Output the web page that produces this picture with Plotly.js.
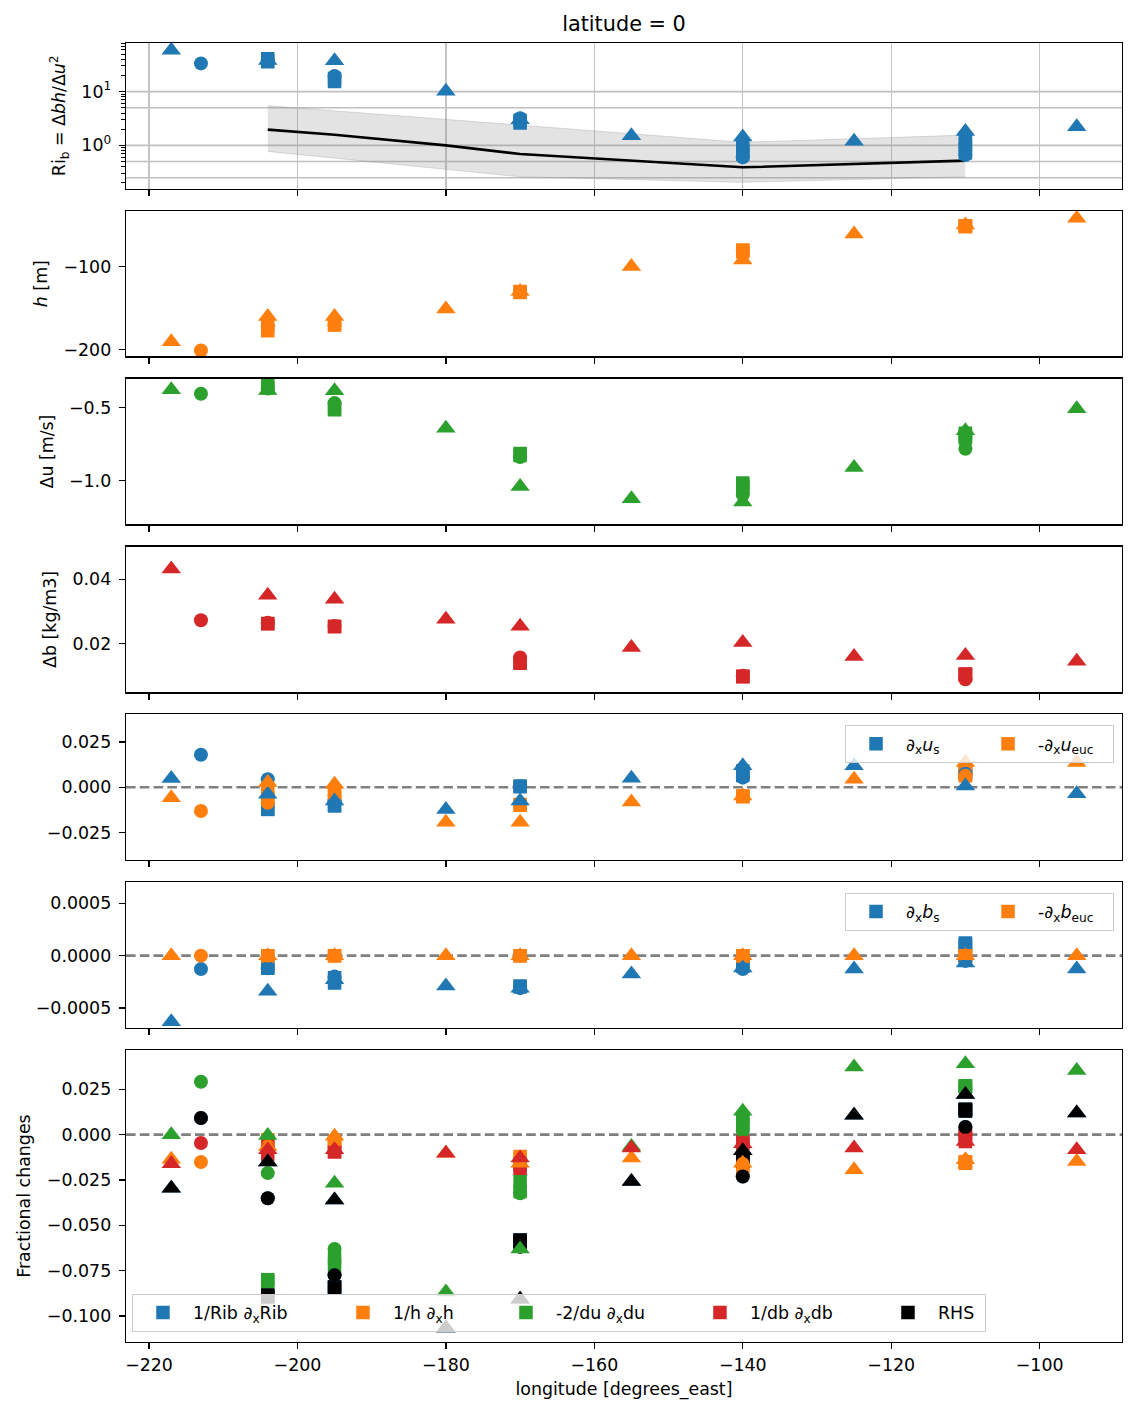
<!DOCTYPE html>
<html><head><meta charset="utf-8">
<script src="https://cdn.plot.ly/plotly-3.0.1.min.js"></script>
<style>body{margin:0;background:#fff}</style>
</head><body><div id="chart" style="width:1136px;height:1416px"></div>
<script>
// ---------------- data ----------------
const lonTri = [-217, -204, -195, -180, -170, -155, -140, -125, -110, -95];
const lonCir = [-213, -204, -195, -170, -140, -110];
const lonSq  = [-204, -204, -195, -195, -170, -170, -140, -140, -140, -110, -110, -110, -110];

// Panel 1: bulk Richardson number
const riTri = [59, 38, 37.5, 10.2, 3.0, 1.51, 1.43, 1.19, 1.82, 2.22];
const riCir = [33.5, 37, 19.5, 3.2, 0.6, 0.66];
const riSq  = [41, 36, 17.5, 15.5, 2.9, 2.6, 0.95, 0.8, 0.68, 1.35, 1.05, 0.85, 0.72];
const lonBand = [-204, -195, -180, -170, -140, -110];
const riMedian = [1.96, 1.58, 1.0, 0.69, 0.39, 0.52];
const riBandHi = [5.48, 4.4, 3.04, 2.38, 1.14, 1.55];
const riBandLo = [0.77, 0.58, 0.36, 0.26, 0.205, 0.26];
const riRefLines = [0.25, 0.5, 1, 5, 10];

// Panel 2: h [m]
const hTri = [-190.4, -160, -160, -150.8, -130, -100, -92, -60.8, -50, -42];
const hCir = [-200.8, -172, -170, -130.4, -81, -51];
const hSq  = [-170, -177, -170, -170, -130, -131, -80, -81, -82, -51, -51, -52, -51];

// Panel 3: du [m/s]
const duTri = [-0.379, -0.384, -0.386, -0.642, -1.041, -1.126, -1.148, -0.911, -0.66, -0.509];
const duCir = [-0.406, -0.37, -0.47, -0.84, -1.098, -0.783];
const duSq  = [-0.345, -0.365, -0.505, -0.516, -0.815, -0.83, -1.018, -1.035, -1.052, -0.676, -0.69, -0.70, -0.71];

// Panel 4: db
const dbTri = [0.0432, 0.0351, 0.0338, 0.0276, 0.0254, 0.0188, 0.0204, 0.016, 0.0163, 0.0145];
const dbCir = [0.0273, 0.0265, 0.0255, 0.0157, 0.0100, 0.0089];
const dbSq  = [0.0263, 0.0262, 0.0254, 0.0253, 0.0139, 0.0141, 0.0098, 0.0099, 0.0097, 0.0104, 0.0106, 0.0103, 0.0105];

// Panel 5: d/dx u
const usTri   = [0.0048, -0.0039, -0.0076, -0.0122, -0.0076, 0.005, 0.0118, 0.0118, 0.0007, -0.0035];
const ueucTri = [-0.0057, 0.0026, 0.0017, -0.0192, -0.0192, -0.0081, -0.0048, 0.0044, 0.0136, 0.0136];
const usCir   = [0.0179, 0.0044, -0.0075, 0.0005, 0.0053, 0.0075];
const ueucCir = [-0.0131, -0.0085, -0.0048, -0.0099, -0.0048, 0.0063];
const usSq    = [-0.0122, -0.0118, -0.0103, -0.0098, 0.0007, 0.0003, 0.009, 0.0072, 0.0065, 0.009, 0.0085, 0.008, 0.0075];
const ueucSq  = [-0.003, -0.006, -0.002, -0.0048, -0.0099, -0.0095, -0.0048, -0.0050, -0.0052, 0.0100, 0.0063, 0.008, 0.007];

// Panel 6: d/dx b
const bsTri   = [-0.00063, -0.00034, -0.00023, -0.00029, -0.00031, -0.000176, -0.000118, -0.000128, -0.00007, -0.000128];
const beucTri = [0, 0, 0, 0, 0, 0, 0, 0, 0, 0];
const bsCir   = [-0.000128, -0.00012, -0.0002, -0.00031, -0.000128, -0.00005];
const beucCir = [0, 0, 0, 0, 0, 0];
const bsSq    = [-0.000118, -0.00012, -0.00021, -0.00026, -0.00029, -0.0003, -0.000086, -0.0001, -0.00009, 0.00012, 0.0001, 0.00008, 0.00011];
const beucSq  = [0, 0, 0, 0, 0, 0, 0, 0, 0, 0, 0, 0, 0];

// Panel 7: fractional changes
const friTri  = [-0.0295, -0.0151, -0.0360, -0.1067, -0.0908, -0.0258, -0.0089, 0.0107, 0.0222, 0.0120];
const fhTri   = [-0.0135, -0.0065, -0.0009, -0.0102, -0.0157, -0.0129, -0.0157, -0.0194, -0.0138, -0.0148];
const fduTri  = [0.0000, -0.0004, -0.0268, -0.0868, -0.0631, -0.0065, 0.0129, 0.0373, 0.0391, 0.0354];
const fdbTri  = [-0.0160, -0.0083, -0.0083, -0.0102, -0.0129, -0.0074, -0.0050, -0.0074, -0.0037, -0.0083];
const frhsTri = [-0.0295, -0.0151, -0.0360, -0.1067, -0.0908, -0.0258, -0.0089, 0.0107, 0.0222, 0.0120];

const friCir  = [0.0092, -0.0351, -0.0775, -0.0618, -0.0231, 0.0042];
const fhCir   = [-0.0151, -0.0065, -0.0040, -0.0155, -0.0162, -0.0145];
const fduCir  = [0.0292, -0.0212, -0.0631, -0.0323, 0.0022, 0.0255];
const fdbCir  = [-0.0046, -0.0075, -0.0092, -0.0175, -0.0045, 0.0010];
const frhsCir = [0.0092, -0.0351, -0.0775, -0.0618, -0.0231, 0.0042];

const friSq  = [-0.0895, -0.0885, -0.0845, -0.0840, -0.0581, -0.0590, -0.0138, -0.0145, -0.0140, 0.0135, 0.0140, 0.0130, 0.0138];
const fhSq   = [-0.0028, -0.0050, -0.0037, -0.0045, -0.0120, -0.0135, -0.0188, -0.0170, -0.0160, -0.0157, -0.0155, -0.0150, -0.0152];
const fduSq  = [-0.0812, -0.0800, -0.0683, -0.0720, -0.0258, -0.0314, 0.0092, 0.0055, 0.0070, 0.0268, 0.0270, 0.0265, 0.0260];
const fdbSq  = [-0.0040, -0.0110, -0.0092, -0.0095, -0.0185, -0.0170, -0.0037, -0.0055, -0.0045, 0.0015, -0.0037, -0.0020, 0.0000];
const frhsSq = [-0.0895, -0.0885, -0.0845, -0.0840, -0.0581, -0.0590, -0.0138, -0.0145, -0.0140, 0.0135, 0.0140, 0.0130, 0.0138];

const legendU = ['∂<sub>x</sub><i>u</i><sub>s</sub>', '-∂<sub>x</sub><i>u</i><sub>euc</sub>'];
const legendB = ['∂<sub>x</sub><i>b</i><sub>s</sub>', '-∂<sub>x</sub><i>b</i><sub>euc</sub>'];
const legendF = ['1/Rib ∂<sub>x</sub>Rib', '1/h ∂<sub>x</sub>h', '-2/du ∂<sub>x</sub>du', '1/db ∂<sub>x</sub>db', 'RHS'];

// ---------------- styling ----------------
const C = {blue:'#1f77b4', orange:'#ff7f0e', green:'#2ca02c', red:'#d62728', black:'#000000'};
const SYM = {tri:{symbol:'triangle-up', size:17}, cir:{symbol:'circle', size:14}, sq:{symbol:'square', size:13.5}};
const FONT = 'DejaVu Sans, sans-serif';
const FS = 17.4;

const traces = [];
function pts(n, x, y, color, shape) {
  traces.push({type:'scatter', mode:'markers', x:x, y:y, xaxis:'x'+n, yaxis:'y'+n,
    showlegend:false, hoverinfo:'skip', cliponaxis:true,
    marker:{color:color, symbol:SYM[shape].symbol, size:SYM[shape].size, line:{width:0}}});
}
function legItem(n, name, color, legend, w) {
  traces.push({type:'scatter', mode:'markers', x:[null], y:[null], xaxis:'x'+n, yaxis:'y'+n,
    name:name, legend:legend, showlegend:true, legendwidth:w,
    marker:{color:color, symbol:'square', size:13.5, line:{width:0}}});
}

// Panel 1
traces.push({type:'scatter', mode:'lines', x:lonBand, y:riBandLo, xaxis:'x1', yaxis:'y1', showlegend:false,
  line:{color:'rgba(128,128,128,0.25)', width:1}, hoverinfo:'skip'});
traces.push({type:'scatter', mode:'lines', x:lonBand, y:riBandHi, xaxis:'x1', yaxis:'y1', showlegend:false,
  fill:'tonexty', fillcolor:'rgba(128,128,128,0.22)', line:{color:'rgba(128,128,128,0.25)', width:1}, hoverinfo:'skip'});
traces.push({type:'scatter', mode:'lines', x:lonBand, y:riMedian, xaxis:'x1', yaxis:'y1', showlegend:false,
  line:{color:'black', width:2.6}, hoverinfo:'skip'});
pts(1, lonSq, riSq, C.blue, 'sq'); pts(1, lonCir, riCir, C.blue, 'cir'); pts(1, lonTri, riTri, C.blue, 'tri');
// Panel 2
pts(2, lonSq, hSq, C.orange, 'sq'); pts(2, lonCir, hCir, C.orange, 'cir'); pts(2, lonTri, hTri, C.orange, 'tri');
// Panel 3
pts(3, lonSq, duSq, C.green, 'sq'); pts(3, lonCir, duCir, C.green, 'cir'); pts(3, lonTri, duTri, C.green, 'tri');
// Panel 4
pts(4, lonSq, dbSq, C.red, 'sq'); pts(4, lonCir, dbCir, C.red, 'cir'); pts(4, lonTri, dbTri, C.red, 'tri');
// Panel 5
pts(5, lonSq, usSq, C.blue, 'sq'); pts(5, lonSq, ueucSq, C.orange, 'sq');
pts(5, lonCir, usCir, C.blue, 'cir'); pts(5, lonCir, ueucCir, C.orange, 'cir');
pts(5, lonTri, usTri, C.blue, 'tri'); pts(5, lonTri, ueucTri, C.orange, 'tri');
legItem(5, legendU[0], C.blue, 'legend2', 67); legItem(5, legendU[1], C.orange, 'legend2', 70);
// Panel 6
pts(6, lonSq, bsSq, C.blue, 'sq'); pts(6, lonSq, beucSq, C.orange, 'sq');
pts(6, lonCir, bsCir, C.blue, 'cir'); pts(6, lonCir, beucCir, C.orange, 'cir');
pts(6, lonTri, bsTri, C.blue, 'tri'); pts(6, lonTri, beucTri, C.orange, 'tri');
legItem(6, legendB[0], C.blue, 'legend3', 67); legItem(6, legendB[1], C.orange, 'legend3', 70);
// Panel 7
const cols7 = [C.blue, C.orange, C.green, C.red, C.black];
const sq7 = [friSq, fhSq, fduSq, fdbSq, frhsSq];
const cir7 = [friCir, fhCir, fduCir, fdbCir, frhsCir];
const tri7 = [friTri, fhTri, fduTri, fdbTri, frhsTri];
const legW7 = [135, 98, 129, 123, 42];
sq7.forEach((y, i) => pts(7, lonSq, y, cols7[i], 'sq'));
cir7.forEach((y, i) => pts(7, lonCir, y, cols7[i], 'cir'));
tri7.forEach((y, i) => pts(7, lonTri, y, cols7[i], 'tri'));
legendF.forEach((name, i) => legItem(7, name, cols7[i], 'legend', legW7[i]));

// ---------------- layout ----------------
const hF = 145.6 / 1299, gF = 22.27 / 1299;
function dom(i) { const top = 1 - i * (hF + gF); return i === 6 ? [0, top] : [top - hF, top]; }

const baseAx = {showline:true, mirror:true, linecolor:'black', linewidth:1.3, ticks:'outside', ticklen:6,
  tickwidth:1.3, tickcolor:'black', zeroline:false, showgrid:false, ticklabelstandoff:4,
  tickfont:{size:FS, color:'black'}};
const legBase = {orientation:'h', bgcolor:'rgba(255,255,255,0.8)', bordercolor:'#cccccc', borderwidth:1,
  font:{size:FS, color:'black'}, traceorder:'normal', itemwidth:50};
const layout = {
  width:1136, height:1416, paper_bgcolor:'white', plot_bgcolor:'white',
  margin:{l:126, r:14, t:43, b:74},
  font:{family:FONT, size:FS, color:'black'},
  title:{text:'latitude = 0', font:{size:20.8, color:'black'}, x:0.5, xref:'paper', xanchor:'center',
    y:1 - 24 / 1416, yref:'container', yanchor:'middle'},
  shapes:[],
  legend:Object.assign({}, legBase, {x:0.006, xanchor:'left', y:0.008, yanchor:'bottom'}),
  legend2:Object.assign({}, legBase, {x:0.992, xanchor:'right', y:0.475, yanchor:'top'}),
  legend3:Object.assign({}, legBase, {x:0.992, xanchor:'right', y:0.3459, yanchor:'top'}),
};
const yRanges = [null, [-208, -33], [-1.301, -0.303], [0.0049, 0.0502], [-0.0401, 0.0401], [-0.00069, 0.00070], [-0.1144, 0.0466]];
const yTitles = ['Ri<sub>b</sub> = Δ<i>bh</i>/Δ<i>u</i><sup>2</sup>', '<i>h</i> [m]', 'Δu [m/s]', 'Δb [kg/m3]', '', '', 'Fractional changes'];
const yDtick = [null, 100, 0.5, 0.02, 0.025, 0.0005, 0.025];
const yFmt = [null, 'd', '.1f', '.2f', '.3f', '.4f', '.3f'];

for (let i = 0; i < 7; i++) {
  const n = i + 1;
  layout['xaxis' + n] = Object.assign({}, baseAx, {anchor:'y' + n, domain:[0, 1], range:[-223.1, -88.9],
    tick0:-220, dtick:20, showticklabels:n === 7, showgrid:n === 1, gridcolor:'#c4c4c4', gridwidth:1.3,
    ticklabelstandoff:1});
  const ya = Object.assign({}, baseAx, {anchor:'x' + n, domain:dom(i), automargin:true,
    title:{text:yTitles[i], font:{size:FS}, standoff:11}});
  if (i === 0) {
    Object.assign(ya, {type:'log', range:[-0.805, 1.905], tickvals:[1, 10],
      ticktext:['10<sup>0</sup>', '10<sup>1</sup>'],
      minor:{ticks:'outside', ticklen:3.5, tickwidth:1, tickcolor:'black',
        tickvals:[0.2,0.3,0.4,0.5,0.6,0.7,0.8,0.9,2,3,4,5,6,7,8,9,20,30,40,50,60,70,80]}});
  } else {
    Object.assign(ya, {range:yRanges[i], tick0:0, dtick:yDtick[i], tickformat:yFmt[i]});
  }
  layout['yaxis' + n] = ya;
}
// reference lines in panel 1
riRefLines.forEach(v => layout.shapes.push({type:'line', xref:'x1 domain', yref:'y1', x0:0, x1:1, y0:v, y1:v,
  line:{color:'#bfbfbf', width:1.6}, layer:'below'}));
// zero lines in panels 5-7
[5, 6, 7].forEach(n => layout.shapes.push({type:'line', xref:'x' + n + ' domain', yref:'y' + n, x0:0, x1:1, y0:0, y1:0,
  line:{color:'#808080', width:2.6, dash:'9.6px,4.2px'}, layer:'below'}));
layout.xaxis7.title = {text:'longitude [degrees_east]', font:{size:FS}, standoff:8};
layout.xaxis7.automargin = true;

Plotly.newPlot('chart', traces, layout, {staticPlot:true, displayModeBar:false});
</script></body></html>
